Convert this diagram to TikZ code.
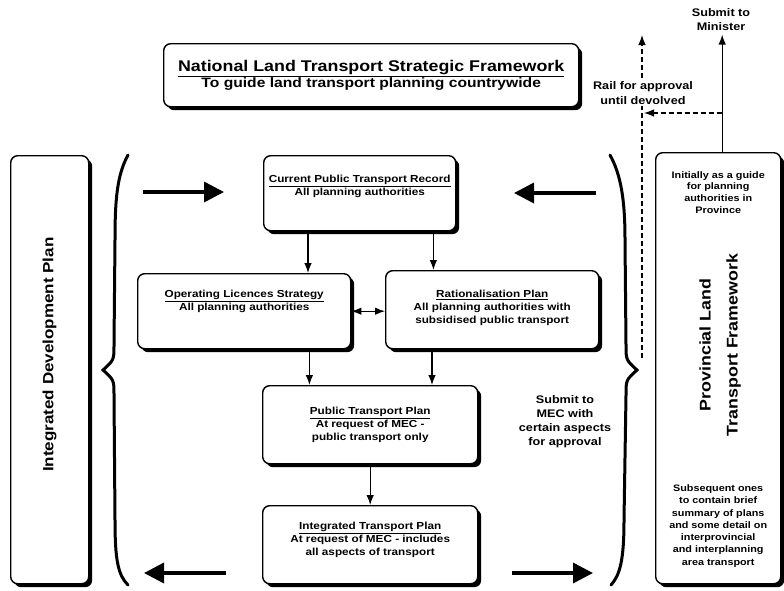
\documentclass[tikz,border=0pt]{standalone}
\usepackage{fontspec}
\setmainfont{Liberation Sans}[FakeStretch=1.15]
\usetikzlibrary{arrows.meta,positioning,shadows}

\begin{document}
\begin{tikzpicture}[x=1pt,y=-1pt,>={Latex[length=10pt,width=7.5pt]}, every node/.style={font=\bfseries\fontsize{10.2}{13}\selectfont, align=center}]
\tikzstyle{planbox}=[draw, line width=1.4pt, rounded corners=7pt, fill=white, anchor=north west, drop shadow={shadow xshift=3.5pt, shadow yshift=-3.5pt, fill=black, opacity=1}]
\tikzstyle{boxtext}=[inner sep=0pt]
\tikzstyle{sidelabel}=[font=\bfseries\fontsize{11}{14}\selectfont]
\tikzstyle{link}=[line width=1.2pt]
\tikzstyle{bigarrow}=[line width=3.5pt, -{Triangle[length=20pt,width=20pt]}]
\tikzstyle{brace}=[line width=3pt, line cap=round]
\useasboundingbox (0,0) rectangle (784,590);
% national framework
\node[planbox, minimum width=415pt, minimum height=63pt] (nltsf) at (163,43) {\fontsize{15.5}{18}\selectfont\underline{National Land Transport Strategic Framework}\\\fontsize{13.6}{18}\selectfont To guide land transport planning countrywide};
% side boxes
\node[planbox, minimum width=78pt, minimum height=428pt] (idp) at (10,155) {};
\node[rotate=90, font=\bfseries\fontsize{14.8}{18}\selectfont] (idptext) at ([yshift=15pt]idp.center) {Integrated Development Plan};
\node[planbox, minimum width=125pt, minimum height=431pt] (pltf) at (655,152) {};
\node[boxtext, font=\bfseries\fontsize{9.4}{11.7}\selectfont, below=19pt of pltf.north] (pltftop) {Initially as a guide\\for planning\\authorities in\\Province};
\node[rotate=90, font=\bfseries\fontsize{15.5}{27}\selectfont] (pltftext) at (720,345) {Provincial Land\\Transport Framework};
\node[boxtext, font=\bfseries\fontsize{9.4}{12.3}\selectfont, above=17pt of pltf.south] (pltfbot) {Subsequent ones\\to contain brief\\summary of plans\\and some detail on\\interprovincial\\and interplanning\\area transport};
% plans
\node[planbox, minimum width=192pt, minimum height=75pt] (cptr) at (263,155) {};
\node[boxtext, below=20pt of cptr.north] (cptrtext) {\underline{Current Public Transport Record}\\All planning authorities};
\node[planbox, minimum width=213pt, minimum height=75pt] (ols) at (137,273) {};
\node[boxtext, below=17pt of ols.north] (olstext) {\underline{Operating Licences Strategy}\\All planning authorities};
\node[planbox, minimum width=213pt, minimum height=78pt] (rp) at (385,270) {};
\node[boxtext, below=20pt of rp.north] (rptext) {\underline{Rationalisation Plan}\\All planning authorities with\\subsidised public transport};
\node[planbox, minimum width=215pt, minimum height=78pt] (ptp) at (262,385) {};
\node[boxtext, below=22pt of ptp.north] (ptptext) {\underline{Public Transport Plan}\\At request of MEC -\\public transport only};
\node[planbox, minimum width=215pt, minimum height=78pt] (itp) at (262,505) {};
\node[boxtext, below=17pt of itp.north] (itptext) {\underline{Integrated Transport Plan}\\At request of MEC - includes\\all aspects of transport};
% labels
\node[sidelabel] (mec) at (565,422) {Submit to\\MEC with\\certain aspects\\for approval};
\node[sidelabel] (minister) at (721,20) {Submit to\\Minister};
% links between plans
\draw[->, link] ([xshift=45pt]cptr.south west) -- ([xshift=45pt]cptr.south west |- ols.north);
\draw[->, link] ([xshift=-23pt]cptr.south east) -- ([xshift=-23pt]cptr.south east |- rp.north);
\draw[<->, link] (ols.east) -- (ols.east -| rp.west);
\draw[->, link] ([xshift=-42pt]ols.south east) -- ([xshift=-42pt]ols.south east |- ptp.north);
\draw[->, link] ([xshift=47pt]rp.south west) -- ([xshift=47pt]rp.south west |- ptp.north);
\draw[->, link] (ptp.south) -- (itp.north);
% approval routes
\coordinate (railbot) at (642,358);
\coordinate (railtop) at (642,35);
\coordinate (railjoin) at ([xshift=4pt]pltf.north |- 0,113);
\draw[->, link] ([xshift=4pt]pltf.north) -- ([xshift=4pt]pltf.north |- minister.south);
\draw[->, link, dash pattern=on 5pt off 3pt] (railbot) -- (railtop);
\draw[->, link, dash pattern=on 5pt off 3pt, shorten >=2pt] (railjoin) -- (railjoin -| railtop);
\node[sidelabel, fill=white, inner sep=1pt, font=\bfseries\fontsize{11}{15}\selectfont] (rail) at (643,93) {Rail for approval\\until devolved};
% braces
\draw[brace] (128,155) .. controls (117,175) and (115,200) .. (115,240) -- (114,345) .. controls (114,360) .. (103,370) .. controls (114,380) .. (114,395) -- (115,520) .. controls (115,560) and (118,575) .. (128,585);
\draw[brace] (610,155) .. controls (621,175) and (625,200) .. (625,240) -- (626,345) .. controls (626,360) .. (637,370) .. controls (626,380) .. (626,395) -- (624,520) .. controls (624,560) and (620,575) .. (611,585);
% big arrows
\coordinate (tlA) at (143,192); \coordinate (tlB) at (224,192);
\coordinate (trA) at (596,193); \coordinate (trB) at (514,193);
\coordinate (blA) at (226,573); \coordinate (blB) at (144,573);
\coordinate (brA) at (512,573); \coordinate (brB) at (593,573);
\draw[bigarrow] (tlA) -- (tlB);
\draw[bigarrow] (trA) -- (trB);
\draw[bigarrow] (blA) -- (blB);
\draw[bigarrow] (brA) -- (brB);
\end{tikzpicture}
\end{document}
